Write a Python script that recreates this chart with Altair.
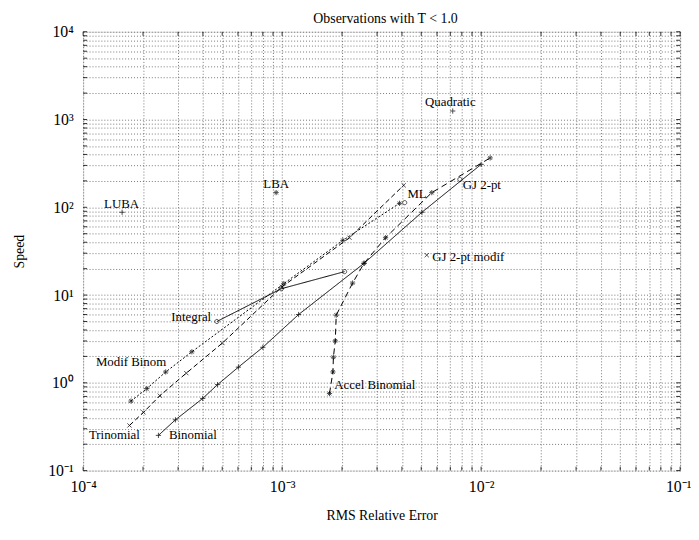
import altair as alt
import pandas as pd

# ---------------- data ----------------
binom_x = [2.39e-4, 2.91e-4, 3.99e-4, 4.74e-4, 6.03e-4, 8.0e-4, 1.21e-3, 2.58e-3, 5.04e-3, 1.0e-2]
binom_y = [0.252, 0.379, 0.664, 0.955, 1.51, 2.54, 6.0, 23, 87.7, 308]

accel_x = [1.73e-3, 1.80e-3, 1.81e-3, 1.85e-3, 1.87e-3, 2.26e-3, 2.58e-3, 3.31e-3, 5.65e-3, 1.11e-2]
accel_y = [0.755, 1.33, 1.96, 3.01, 5.9, 13.7, 23, 45, 147, 365]

trin_x = [1.71e-4, 2.01e-4, 2.43e-4, 3.30e-4, 5.01e-4, 9.98e-4, 2.18e-3, 4.08e-3]
trin_y = [0.327, 0.461, 0.713, 1.29, 2.84, 12.4, 45, 178]

modif_x = [1.74e-4, 2.09e-4, 2.60e-4, 3.52e-4, 1.02e-3, 2.02e-3, 3.89e-3]
modif_y = [0.62, 0.86, 1.33, 2.26, 13.5, 42, 111]

integ_x = [4.7e-4, 9.9e-4, 2.06e-3]
integ_y = [5.0, 11.8, 18.5]

single_names = ["LUBA", "LBA", "Quadratic", "ML", "GJ 2-pt", "GJ 2-pt modif"]
single_x = [1.57e-4, 9.33e-4, 7.2e-3, 4.13e-3, 7.82e-3, 5.33e-3]
single_y = [87.7, 147, 1250, 113, 208, 28.5]
single_marker = ["plus", "star", "plus", "circle", "circle", "x"]

label_text = ["LUBA", "LBA", "Quadratic", "ML", "GJ 2-pt", "GJ 2-pt modif",
              "Accel Binomial", "Binomial", "Trinomial", "Modif Binom", "Integral"]
label_x = [1.56e-4, 9.33e-4, 7.0e-3, 4.26e-3, 8.09e-3, 5.68e-3,
           1.83e-3, 2.70e-4, 1.07e-4, 1.16e-4, 4.4e-4]
label_y = [110, 185, 1600, 142, 180, 27,
           0.955, 0.254, 0.254, 1.73, 5.6]
label_align = ["center", "center", "center", "left", "left", "left",
               "left", "left", "left", "left", "right"]

title_text = ["Observations with T < 1.0"]

x_ticks = [k * 10.0 ** e for e in (-4, -3, -2) for k in range(1, 10)] + [0.1]
y_ticks = [k * 10.0 ** e for e in (-1, 0, 1, 2, 3) for k in range(1, 10)] + [1e4]

# ---------------- tables ----------------
series = [
    ("Binomial", binom_x, binom_y, "plus"),
    ("Integral", integ_x, integ_y, "circle"),
    ("Accel Binomial", accel_x, accel_y, "star"),
    ("Trinomial", trin_x, trin_y, "x"),
    ("Modif Binom", modif_x, modif_y, "star"),
]
rows = []
for name, xs_, ys_, m in series:
    for i, (a, b) in enumerate(zip(xs_, ys_)):
        rows.append({"series": name, "idx": i, "x": a, "y": b, "marker": m})
lines_df = pd.DataFrame(rows)
pts_df = pd.concat([
    lines_df[["x", "y", "marker"]],
    pd.DataFrame({"x": single_x, "y": single_y, "marker": single_marker}),
], ignore_index=True)
lab_df = pd.DataFrame({"t": label_text, "x": label_x, "y": label_y, "al": label_align})

FONT = "Liberation Serif"
W, H = 604, 444

xs = alt.Scale(type="log", domain=[1e-4, 1e-1])
ys = alt.Scale(type="log", domain=[0.1, 1e4])

sup = ("(round(log(datum.value)/LN10)==-4?'10⁻⁴':round(log(datum.value)/LN10)==-3?'10⁻³':"
       "round(log(datum.value)/LN10)==-2?'10⁻²':round(log(datum.value)/LN10)==-1?'10⁻¹':"
       "round(log(datum.value)/LN10)==0?'10⁰':round(log(datum.value)/LN10)==1?'10¹':"
       "round(log(datum.value)/LN10)==2?'10²':round(log(datum.value)/LN10)==3?'10³':'10⁴')")
lab_expr = "abs(log(datum.value)/LN10 - round(log(datum.value)/LN10)) < 0.001 ? " + sup + " : ''"

x_axis = alt.Axis(values=x_ticks, labelExpr=lab_expr, grid=True, gridDash=[1, 2],
                  gridColor="#555", gridWidth=0.8, ticks=False, domain=False,
                  labelFont=FONT, labelFontSize=16, labelColor="black", labelPadding=8,
                  labelFlush=False, labelOverlap=False,
                  labelAlign=alt.expr("datum.value > 0.05 ? 'right' : 'center'"),
                  labelOffset=alt.expr("datum.value > 0.05 ? 11 : 0"),
                  title="RMS Relative Error", titleFont=FONT, titleFontSize=14,
                  titleFontWeight="normal", titleColor="black", titlePadding=14)
y_axis = alt.Axis(values=y_ticks, labelExpr=lab_expr, grid=True, gridDash=[1, 2],
                  gridColor="#555", gridWidth=0.8, ticks=False, domain=False,
                  labelFont=FONT, labelFontSize=16, labelColor="black", labelPadding=10,
                  labelFlush=False, labelOverlap=False,
                  title="Speed", titleFont=FONT, titleFontSize=14,
                  titleFontWeight="normal", titleColor="black", titlePadding=22)

paths = [
    "M-1,0L1,0M0,-1L0,1",
    "M-0.8,-0.8L0.8,0.8M-0.8,0.8L0.8,-0.8",
    "M-1,0L1,0M0,-1L0,1M-0.7,-0.7L0.7,0.7M-0.7,0.7L0.7,-0.7",
    "M0.8,0A0.8,0.8 0 1,1 -0.8,0A0.8,0.8 0 1,1 0.8,0",
]

lines = alt.Chart(lines_df).mark_line(color="black", strokeWidth=1).encode(
    x=alt.X("x:Q", scale=xs, axis=x_axis),
    y=alt.Y("y:Q", scale=ys, axis=y_axis),
    detail="series:N",
    order="idx:Q",
    strokeDash=alt.StrokeDash("series:N", legend=None, scale=alt.Scale(
        domain=["Binomial", "Integral", "Accel Binomial", "Trinomial", "Modif Binom"],
        range=[[1, 0], [1, 0], [6, 4], [5, 3], [2, 2]])),
)

points = alt.Chart(pts_df).mark_point(filled=False, color="black", strokeWidth=1, size=28).encode(
    x=alt.X("x:Q", scale=xs), y=alt.Y("y:Q", scale=ys),
    shape=alt.Shape("marker:N", legend=None, scale=alt.Scale(
        domain=["plus", "x", "star", "circle"], range=paths)),
)

texts = []
for al in ["left", "center", "right"]:
    texts.append(alt.Chart(lab_df).transform_filter(alt.datum.al == al).mark_text(
        font=FONT, fontSize=13, color="black", align=al, baseline="middle").encode(
        x=alt.X("x:Q", scale=xs), y=alt.Y("y:Q", scale=ys), text="t:N"))

title = alt.Chart(pd.DataFrame({"t": title_text})).mark_text(
    font=FONT, fontSize=14, color="black", align="center", baseline="middle").encode(
    x=alt.value(W / 2 + 4), y=alt.value(-13), text="t:N")


def tick_layer(vals, axis, side):
    df = pd.DataFrame({"v": vals})
    base = alt.Chart(df).mark_rule(color="black", strokeWidth=0.8)
    if axis == "x":
        if side == "bottom":
            return base.encode(x=alt.X("v:Q", scale=xs), y=alt.value(H), y2=alt.value(H - 4))
        return base.encode(x=alt.X("v:Q", scale=xs), y=alt.value(0), y2=alt.value(4))
    if side == "left":
        return base.encode(y=alt.Y("v:Q", scale=ys), x=alt.value(0), x2=alt.value(4))
    return base.encode(y=alt.Y("v:Q", scale=ys), x=alt.value(W), x2=alt.value(W - 4))


ticks = [tick_layer(x_ticks, "x", "bottom"), tick_layer(x_ticks, "x", "top"),
         tick_layer(y_ticks, "y", "left"), tick_layer(y_ticks, "y", "right")]

chart = alt.layer(lines, *ticks, points, *texts, title).properties(
    width=W, height=H,
    autosize=alt.AutoSizeParams(type="none"),
    padding={"left": 76, "top": 21, "right": 11, "bottom": 52},
).configure_view(stroke="black", strokeWidth=1).configure(background="white")

chart.save("out.html", embed_options={"renderer": "svg", "actions": False})
